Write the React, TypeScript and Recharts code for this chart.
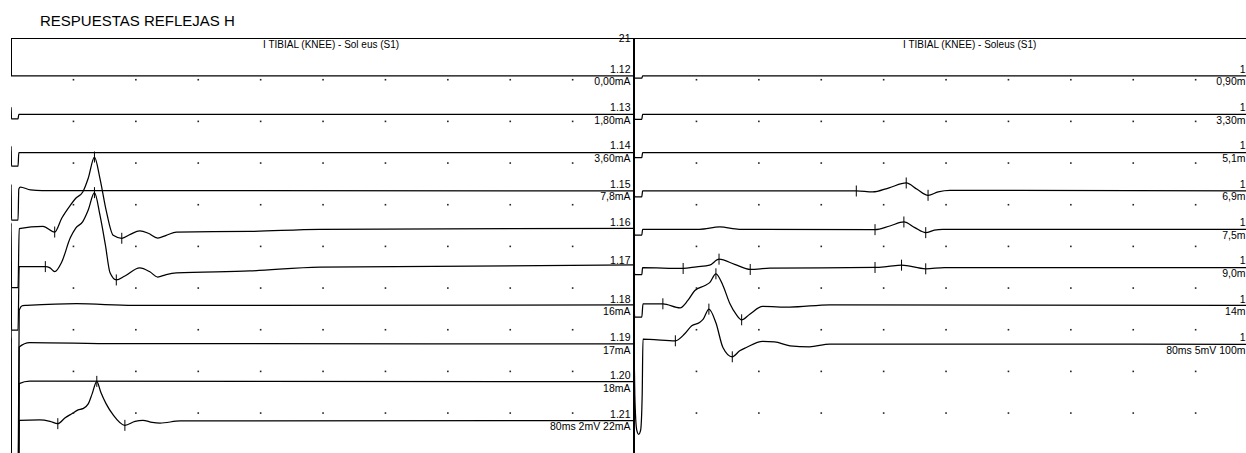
import React from 'react';
import { ComposedChart, Line, XAxis, YAxis } from 'recharts';

// ---------- text ----------
const PAGE_TITLE = 'RESPUESTAS REFLEJAS H';
const LEFT_TITLE = 'I TIBIAL (KNEE) - Sol eus (S1)';
const RIGHT_TITLE = 'I TIBIAL (KNEE) - Soleus (S1)';
const LEFT_COUNT = '21';
const LEFT_TOP_LABELS = ['1.12', '1.13', '1.14', '1.15', '1.16', '1.17', '1.18', '1.19', '1.20', '1.21'];
const LEFT_BOTTOM_LABELS = ['0,00mA', '1,80mA', '3,60mA', '7,8mA', '', '', '16mA', '17mA', '18mA', '80ms 2mV 22mA'];
const RIGHT_TOP_LABELS = ['1', '1', '1', '1', '1', '1', '1', '1'];
const RIGHT_BOTTOM_LABELS = ['0,90m', '3,30m', '5,1m', '6,9m', '7,5m', '9,0m', '14m', '80ms 5mV 100m'];

// ---------- scales ----------
const SWEEP_MS = 80;
const DIVS = 10;
const LEFT_SENS_MV = 2;
const RIGHT_SENS_MV = 5;
const GRID_COLS = [1, 2, 3, 4, 5, 6, 7, 8, 9];
const GRID_ROWS = [1, 2, 3, 4, 5, 6, 7, 8, 9];

// ---------- traces: [ms, mV, marker] ----------
type P = [number, number, number?];
const L1: P[] = [[0, 0], [80, 0]];
const L2: P[] = [[0, 0], [0.02, 0.33], [0.06, -0.22], [0.9, -0.22], [1.0, 0], [80, 0]];
const L3: P[] = [[0, 0], [0.02, 0.3], [0.06, -0.65], [0.9, -0.65], [1.0, 0], [80, 0]];
const L4: P[] = [[0, 0], [0.02, 0.3], [0.06, -1.4], [0.9, -1.4], [1.0, 0.1], [1.2, 0.19], [2.5, 0.05], [4, 0.02], [80, 0]];
const L5: P[] = [[0, 0], [0.02, 0.3], [0.06, -2.8], [0.9, -2.8], [1.05, 0.03], [4.1, 0.14], [5.6, -0.13, 1], [6.5, 0.53], [7.6, 1.15], [8.3, 1.49], [9.2, 1.79], [9.9, 2.45], [10.7, 3.47, 1], [11.4, 2.45], [12.2, 0.91], [13.1, -0.29], [14.2, -0.43, 1], [15.3, -0.24], [16.5, -0.08], [17.6, -0.19], [18.8, -0.42], [19.9, -0.29], [21.2, -0.13], [30.6, -0.1], [39.6, 0], [80, 0.05]];
const L6: P[] = [[0, 0], [0.02, 0.3], [0.06, -3.0], [0.9, -3.0], [1.05, 0.05], [4.4, 0.05, 1], [5, -0.01], [5.6, -0.19], [6.5, 0.27], [7.6, 1.43], [8.3, 1.9], [9.2, 2.21], [9.9, 2.77], [10.7, 3.6, 1], [11.4, 2.53], [12.1, 1.09], [12.7, -0.25], [13.5, -0.59, 1], [14.6, -0.4], [16.5, -0.01], [17.8, -0.2], [18.8, -0.45], [19.9, -0.33], [21.2, -0.25], [30.6, -0.16], [39.6, 0.03], [80, 0.13]];
const L7: P[] = [[0, 0], [0.02, 0.3], [0.06, -9], [0.9, -9], [1.05, -0.2], [1.5, 0.02], [2, 0.03], [8.4, 0.11], [15.7, 0.03], [80, 0.05]];
const L8: P[] = [[0, 0], [0.02, 0.3], [0.06, -9], [0.9, -9], [1.05, -0.13], [2.4, 0.08], [13.5, 0.03], [80, 0.02]];
const L9: P[] = [[0, 0], [0.02, 0.3], [0.06, -9], [0.9, -9], [1.05, -0.05], [2.4, 0.07], [80, 0.05]];
const L10: P[] = [[0, 0], [0.02, 0.3], [0.06, -9], [0.9, -9], [1.05, 0.03], [3.7, 0.05], [5, -0.02], [6, -0.13, 1], [6.9, 0.14], [7.8, 0.35], [8.6, 0.53], [9.2, 0.59], [9.9, 0.82], [10.4, 1.3], [11, 1.9, 1], [11.5, 1.39], [12.2, 0.82], [13.1, 0.29], [14.6, -0.21, 1], [15.9, -0.02], [16.9, 0.03], [18.1, -0.07], [19.1, -0.1], [21.7, 0], [80, 0.02]];

const R1: P[] = [[0, 0], [0.1, -0.25], [1.0, -0.25], [1.1, 0], [80, 0]];
const R2: P[] = [[0, 0], [0.1, -0.6], [1.0, -0.6], [1.1, 0], [80, 0]];
const R3: P[] = [[0, 0], [0.1, -0.6], [1.0, -0.6], [1.1, 0], [80, 0]];
const R4: P[] = [[0, 0], [0.1, -0.7], [1.0, -0.7], [1.1, 0], [28.5, 0, 1], [30.6, -0.12], [32.7, 0.38], [34.9, 0.96, 1], [36.3, 0.2], [37.7, -0.52, 1], [39, -0.1], [40.5, 0.08], [80, 0]];
const R5: P[] = [[0, 0], [0.1, -0.7], [1.0, -0.7], [1.1, 0], [8.4, 0], [11, 0.28], [13.5, 0], [30.9, -0.04, 1], [32.8, 0.4], [34.6, 0.88, 1], [36, 0.2], [37.4, -0.4, 1], [38.5, -0.1], [39.6, 0], [80, 0]];
const R6: P[] = [[0, 0], [0.1, -0.85], [1.0, -0.85], [1.1, 0], [6.3, -0.1, 1], [8, 0.1], [9.7, 0.3], [10.9, 1.02, 1], [12.9, 0.4], [14.9, -0.22, 1], [17.4, -0.06], [30.9, 0.02, 1], [32.6, 0.15], [34.3, 0.3, 1], [37.4, -0.14, 1], [39.8, 0], [80, 0]];
const R7: P[] = [[0, 0], [0.1, -1.35], [1.0, -1.35], [1.15, 0.26], [3.7, 0.26, 1], [5.9, -0.22], [6.9, 0.66], [7.8, 1.86], [9.1, 2.46], [9.7, 2.8], [10.5, 3.86, 1], [11.4, 2.46], [12.3, 0.26], [13.1, -1.02], [13.8, -1.66, 1], [14.8, -1.02], [16.5, -0.06], [19.96, -0.14], [25.1, 0.14], [80, 0.06]];
const R8: P[] = [[0, 0], [0.1, -6], [0.35, -10.3], [0.6, -10.8], [0.85, -10.3], [1.05, -6], [1.15, 0.62], [2, 0.6], [5.3, 0.42, 1], [6.5, 1.26], [7.4, 2.22], [8.4, 2.62], [8.9, 3.06], [9.6, 4.22, 1], [10.5, 2.58], [11.4, -0.38], [12.6, -1.5, 1], [13.55, -0.78], [14.4, -0.38], [16.5, 0.34], [18, 0.3], [20, -0.18], [22.5, -0.3], [25.1, 0.02], [80, 0]];

const LEFT_TRACES = [L1, L2, L3, L4, L5, L6, L7, L8, L9, L10];
const RIGHT_TRACES = [R1, R2, R3, R4, R5, R6, R7, R8];

// ---------- layout ----------
const FONT = '"Liberation Sans", Arial, Helvetica, sans-serif';
const PANEL_TOP = 38;
const LEFT_X = 11;
const RIGHT_X = 634.3;
const DIV_W = 62.4;
const DIV_H = 41.67;
const ROW0_PX = 38; // first baseline below panel top
const ROW_STEP_PX = 38.33;
const CH_W = DIV_W * DIVS;
const CH_H = DIV_H * DIVS;
const LEFT_LABEL_RIGHT = 630.5;
const RIGHT_LABEL_RIGHT = 1245.5;

const rowDiv = (row: number) => (ROW0_PX + ROW_STEP_PX * row) / DIV_H;
const toSeries = (pts: P[], row: number, sens: number) =>
  pts.map(([t, mv, m]) => ({ t, v: -rowDiv(row) + mv / sens, m: m ? 1 : 0 }));
const gridDots = GRID_COLS.flatMap((c) => GRID_ROWS.map((r) => ({ t: (c * SWEEP_MS) / DIVS, v: -r })));

const markerDot = (props: any) => {
  const { cx, cy, payload, index } = props;
  if (!payload || !payload.m || cx == null || cy == null) return <g key={`n${index}`} />;
  return <line key={`m${index}`} x1={cx} x2={cx} y1={cy - 5.5} y2={cy + 5.5} stroke="#000" strokeWidth={1} />;
};
const gridDot = (props: any) => {
  const { cx, cy, index } = props;
  if (cx == null || cy == null) return <g key={`g${index}`} />;
  return <rect key={`g${index}`} x={cx - 0.75} y={cy - 0.75} width={1.6} height={1.6} fill="#222" />;
};

function Panel({ traces, sens }: { traces: P[][]; sens: number }) {
  return (
    <ComposedChart width={CH_W} height={CH_H} margin={{ top: 0, right: 0, bottom: 0, left: 0 }}>
      <XAxis dataKey="t" type="number" domain={[0, SWEEP_MS]} hide allowDataOverflow />
      <YAxis dataKey="v" type="number" domain={[-DIVS, 0]} hide allowDataOverflow />
      <Line data={gridDots} dataKey="v" stroke="none" dot={gridDot} activeDot={false} isAnimationActive={false} />
      {traces.map((tr, i) => (
        <Line
          key={i}
          data={toSeries(tr, i, sens)}
          dataKey="v"
          type="monotone"
          stroke="#000"
          strokeWidth={1.25}
          dot={markerDot}
          activeDot={false}
          isAnimationActive={false}
        />
      ))}
    </ComposedChart>
  );
}

const txt = (s: string, right: number, cy: number, size: number, key: string) => (
  <div
    key={key}
    style={{
      position: 'absolute', left: right - 300, width: 300, top: cy - size / 2 - 1, textAlign: 'right',
      fontSize: size, lineHeight: `${size}px`, fontFamily: FONT, whiteSpace: 'nowrap', color: '#000',
    }}
  >
    {s}
  </div>
);

export default function App() {
  const rowY = (i: number) => PANEL_TOP + ROW0_PX + ROW_STEP_PX * i;
  return (
    <div style={{ position: 'absolute', left: 0, top: 0, width: 1246, height: 453, overflow: 'hidden', background: '#fff' }}>
      <div style={{ position: 'absolute', left: 40, top: 12, fontSize: 15, lineHeight: '17px', fontFamily: FONT, color: '#000', whiteSpace: 'nowrap' }}>
        {PAGE_TITLE}
      </div>
      {/* frame */}
      <div style={{ position: 'absolute', left: LEFT_X, top: PANEL_TOP, width: 1246 - LEFT_X, height: 1, background: '#000' }} />
      <div style={{ position: 'absolute', left: LEFT_X, top: PANEL_TOP, width: 1, height: ROW0_PX, background: '#000' }} />
      <div style={{ position: 'absolute', left: 633.3, top: PANEL_TOP, width: 2.2, height: 453 - PANEL_TOP, background: '#000' }} />
      <div style={{ position: 'absolute', left: LEFT_X, top: PANEL_TOP }}>
        <Panel traces={LEFT_TRACES} sens={LEFT_SENS_MV} />
      </div>
      <div style={{ position: 'absolute', left: RIGHT_X, top: PANEL_TOP }}>
        <Panel traces={RIGHT_TRACES} sens={RIGHT_SENS_MV} />
      </div>
      {/* headers */}
      <div style={{ position: 'absolute', left: 263, top: 40, fontSize: 10, lineHeight: '10px', fontFamily: FONT, whiteSpace: 'nowrap' }}>{LEFT_TITLE}</div>
      <div style={{ position: 'absolute', left: 903, top: 40, fontSize: 10, lineHeight: '10px', fontFamily: FONT, whiteSpace: 'nowrap' }}>{RIGHT_TITLE}</div>
      {txt(LEFT_COUNT, LEFT_LABEL_RIGHT, 39, 10.5, 'cnt')}
      {LEFT_TOP_LABELS.map((s, i) => txt(s, LEFT_LABEL_RIGHT, rowY(i) - 6, 10.5, `lt${i}`))}
      {LEFT_BOTTOM_LABELS.map((s, i) => txt(s, LEFT_LABEL_RIGHT, rowY(i) + 6.5, 10.5, `lb${i}`))}
      {RIGHT_TOP_LABELS.map((s, i) => txt(s, RIGHT_LABEL_RIGHT, rowY(i) - 6, 10.5, `rt${i}`))}
      {RIGHT_BOTTOM_LABELS.map((s, i) => txt(s, RIGHT_LABEL_RIGHT, rowY(i) + 6.5, 10.5, `rb${i}`))}
    </div>
  );
}
